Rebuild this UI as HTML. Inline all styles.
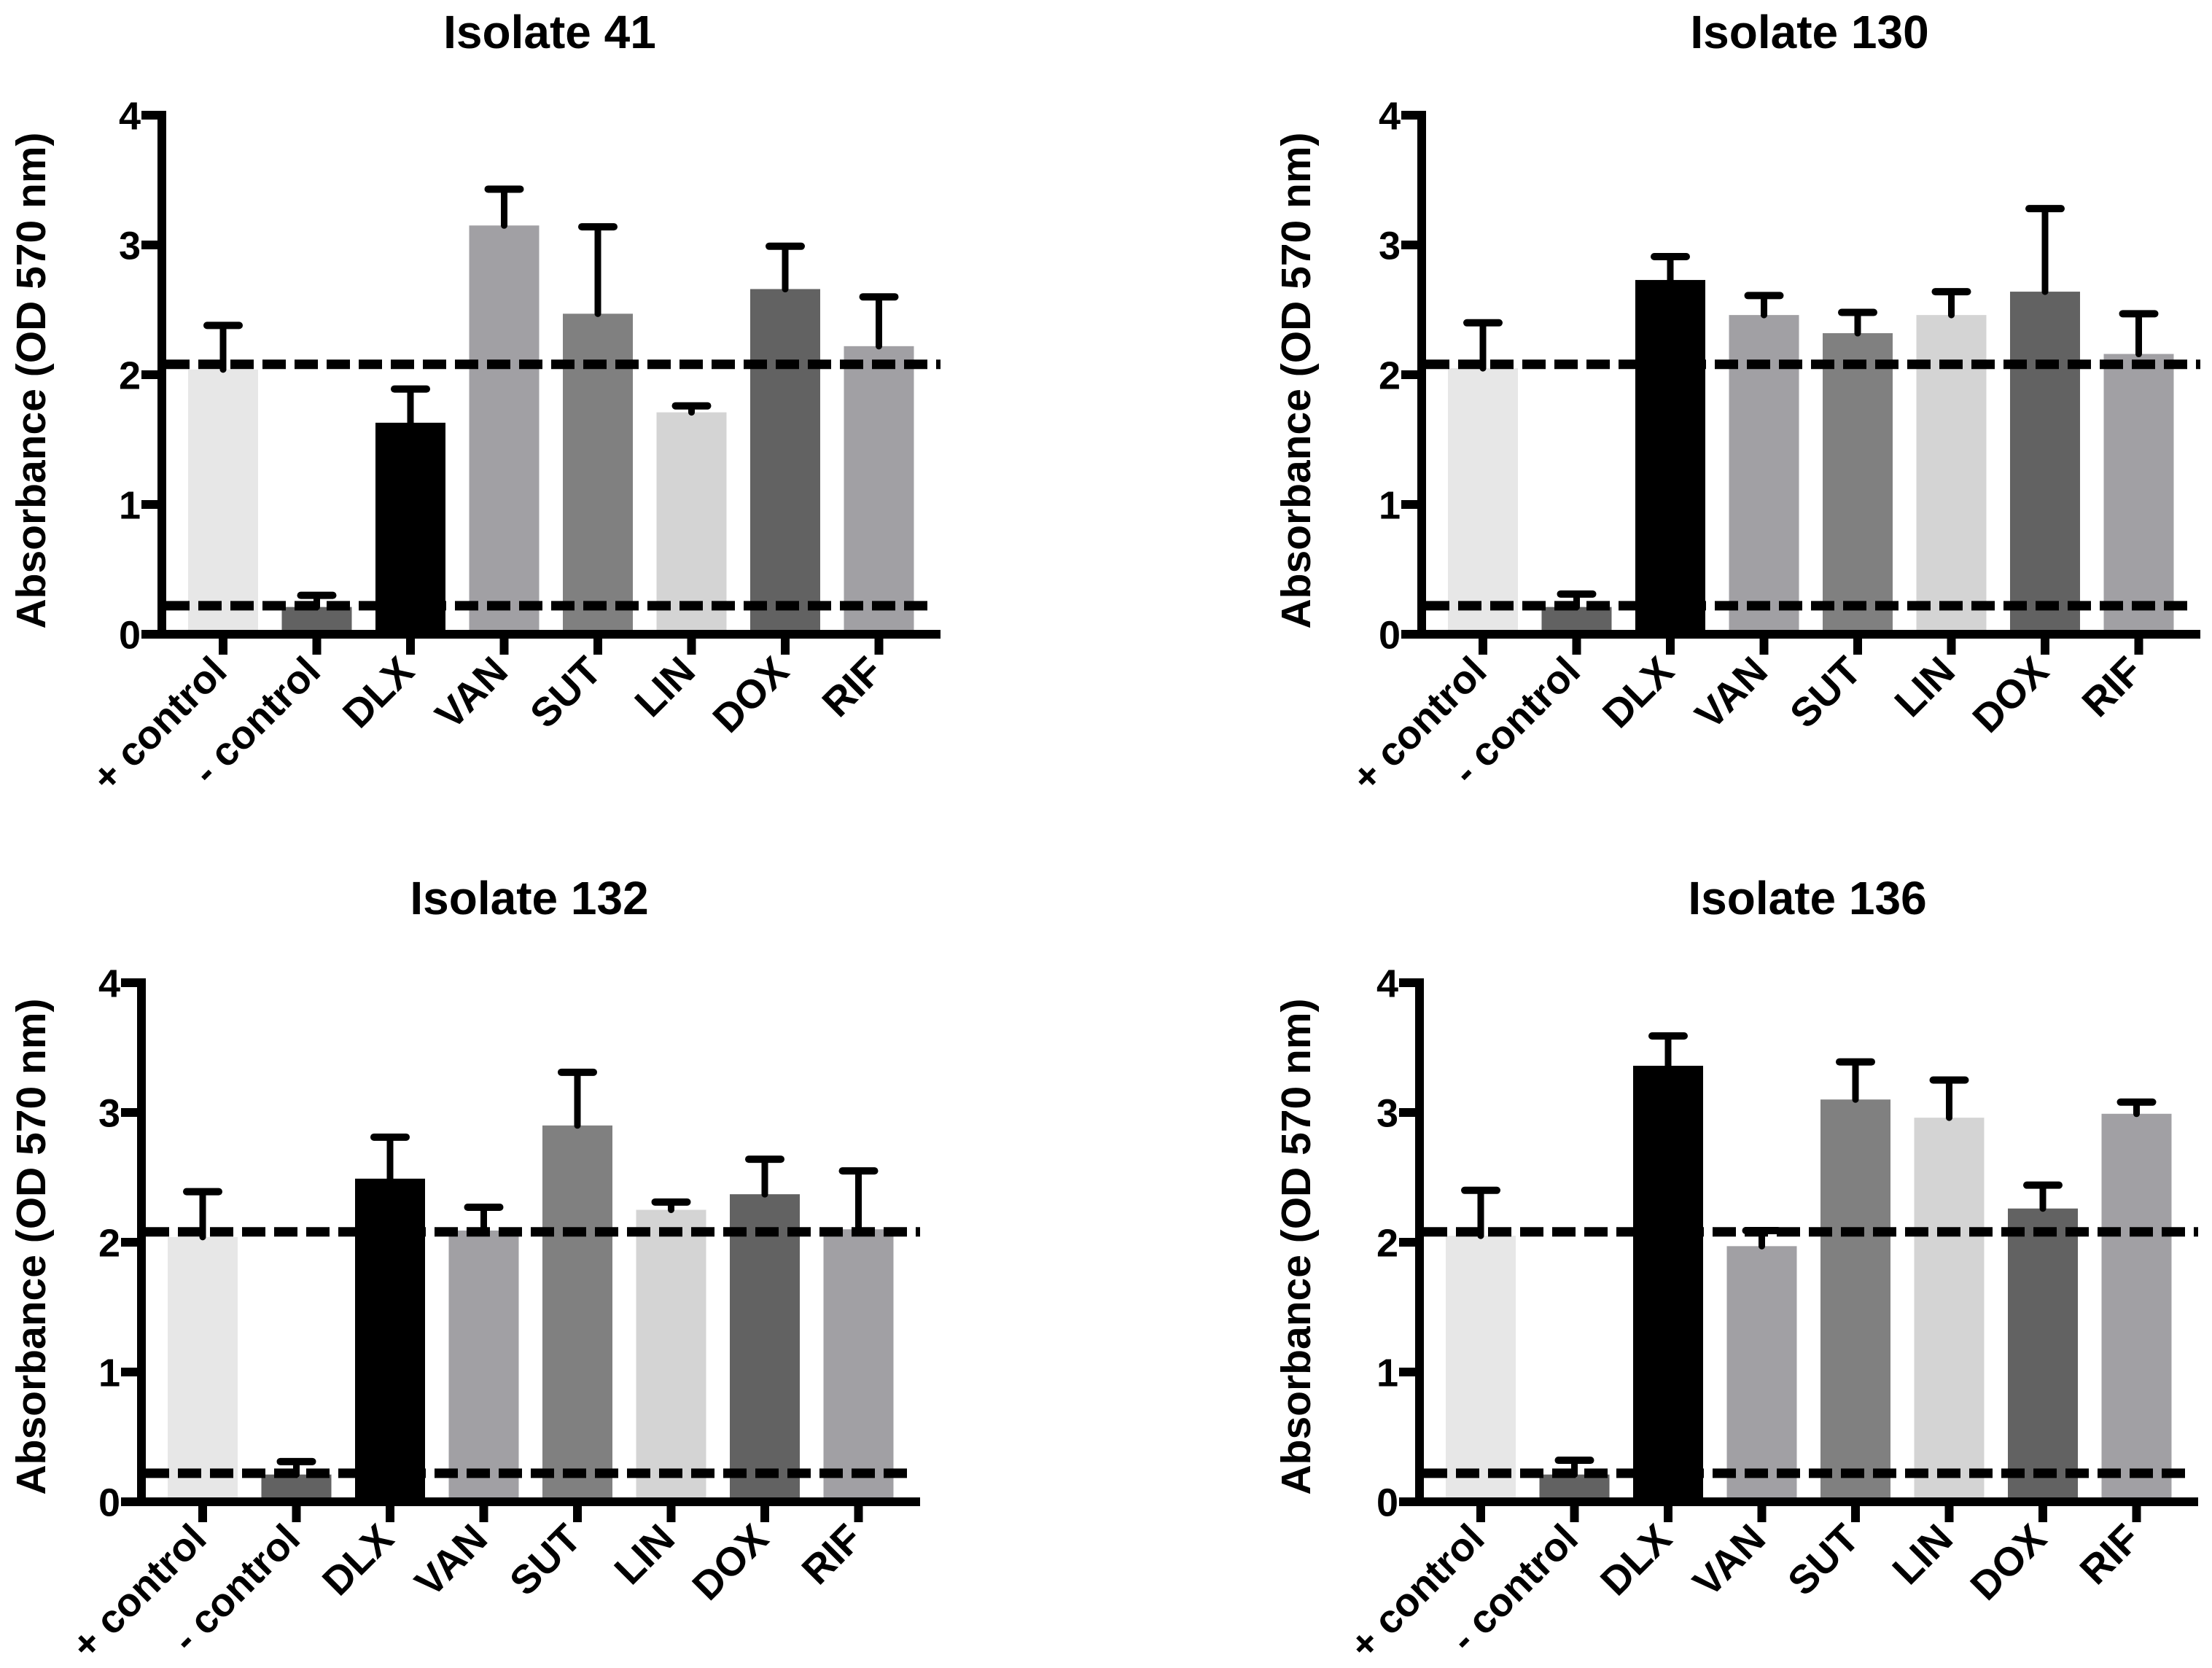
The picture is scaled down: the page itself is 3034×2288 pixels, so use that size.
<!DOCTYPE html>
<html><head><meta charset="utf-8"><style>
html,body{margin:0;padding:0;background:#fff;}
svg{display:block;font-family:"Liberation Sans",Arial,sans-serif;font-weight:bold;}
</style></head>
<body>
<svg id="fig" width="3034" height="2288" viewBox="0 0 3034 2288" xmlns="http://www.w3.org/2000/svg"></svg>
<script>
const categories = ["+ control","- control","DLX","VAN","SUT","LIN","DOX","RIF"];
const barColors = ["#e7e7e7","#626262","#000000","#a1a0a4","#808080","#d4d4d4","#626262","#a1a0a4"];
const yTicks = [0,1,2,3,4];
const thresholds = [2.08, 0.22];
const titles = ["Isolate 41","Isolate 130","Isolate 132","Isolate 136"];
const means41  = [2.04,0.21,1.63,3.15,2.47,1.71,2.66,2.22];
const errs41   = [2.38,0.30,1.89,3.43,3.14,1.76,2.99,2.60];
const means130 = [2.05,0.21,2.73,2.46,2.32,2.46,2.64,2.16];
const errs130  = [2.40,0.31,2.91,2.61,2.48,2.64,3.28,2.47];
const means132 = [2.04,0.21,2.49,2.09,2.90,2.25,2.37,2.10];
const errs132  = [2.39,0.31,2.81,2.27,3.31,2.31,2.64,2.55];
const means136 = [2.05,0.21,3.36,1.97,3.10,2.96,2.26,2.99];
const errs136  = [2.40,0.32,3.59,2.09,3.39,3.25,2.44,3.08];

const NS = "http://www.w3.org/2000/svg";
const svg = document.getElementById("fig");
function mk(tag, attrs, parent){
  const e = document.createElementNS(NS, tag);
  for (const k in attrs) e.setAttribute(k, attrs[k]);
  (parent||svg).appendChild(e);
  return e;
}
const panels = [
  {x0:222, y0:870, titleY:66, axTitleX:42, axTitleY:522, means:means41, errs:errs41},
  {x0:1950, y0:870, titleY:66, axTitleX:1777, axTitleY:522, means:means130, errs:errs130},
  {x0:194, y0:2060, titleY:1254, axTitleX:42, axTitleY:1710, means:means132, errs:errs132},
  {x0:1947, y0:2060, titleY:1254, axTitleX:1777, axTitleY:1710, means:means136, errs:errs136}
];
const UNIT = 178, STEP = 128.5, BW = 96, FIRST = 84;

panels.forEach((p, pi) => {
  const g = mk("g", {});
  
  
  const ys = v => p.y0 - v * UNIT;
  const xs = i => p.x0 + FIRST + i * STEP;

  const t = mk("text", {x: p.x0 + 532, y: p.titleY, "font-size": 64, "text-anchor": "middle"}, g);
  t.textContent = titles[pi];
  
  

  const at = mk("text", {x: 0, y: 0, "font-size": 57, "text-anchor": "middle",
    transform: `translate(${p.axTitleX + 20},${p.axTitleY}) rotate(-90)`}, g);
  at.textContent = "Absorbance (OD 570 nm)";
  
  

  categories.forEach((c, i) => {
    const x = xs(i), top = ys(p.means[i]);
    const r = mk("rect", {x: x - BW/2, y: top, width: BW, height: p.y0 - top, fill: barColors[i]}, g);
    
    
  });
  categories.forEach((c, i) => {
    const x = xs(i), top = ys(p.means[i]), e = ys(p.errs[i]);
    const eg = mk("g", {stroke: "#000", "stroke-linecap": "round"}, g);
    
    
    mk("line", {x1: x, y1: top, x2: x, y2: e, "stroke-width": 9}, eg);
    mk("line", {x1: x - 22, y1: e, x2: x + 22, y2: e, "stroke-width": 10}, eg);
  });
  thresholds.forEach((v, k) => {
    const l = mk("line", {x1: p.x0 + 6, y1: ys(v), x2: p.x0 + (k === 0 ? 1068 : 1058), y2: ys(v),
      stroke: "#000", "stroke-width": 13, "stroke-dasharray": "32 12"}, g);
    
    
  });
  const ya = mk("line", {x1: p.x0, y1: ys(4) - 6, x2: p.x0, y2: p.y0 + 6, stroke: "#000", "stroke-width": 12}, g);
  
  
  const xa = mk("line", {x1: p.x0 - 28, y1: p.y0, x2: p.x0 + 1068, y2: p.y0, stroke: "#000", "stroke-width": 12}, g);
  
  
  yTicks.forEach(v => {
    mk("line", {x1: p.x0 - 28, y1: ys(v), x2: p.x0, y2: ys(v), stroke: "#000", "stroke-width": 12}, g);
    const tl = mk("text", {x: p.x0 - 29, y: ys(v), dy: "0.36em", "font-size": 54, "text-anchor": "end"}, g);
    tl.textContent = String(v);
    
    
  });
  categories.forEach((c, i) => {
    const x = xs(i);
    mk("line", {x1: x, y1: p.y0, x2: x, y2: p.y0 + 28, stroke: "#000", "stroke-width": 12}, g);
    const lb = mk("text", {x: 0, y: 0, "font-size": 55, "text-anchor": "end",
      transform: `translate(${x + 8},${p.y0 + 54}) rotate(-45)`}, g);
    lb.textContent = c;
    
    
  });
});
</script>
</body></html>
